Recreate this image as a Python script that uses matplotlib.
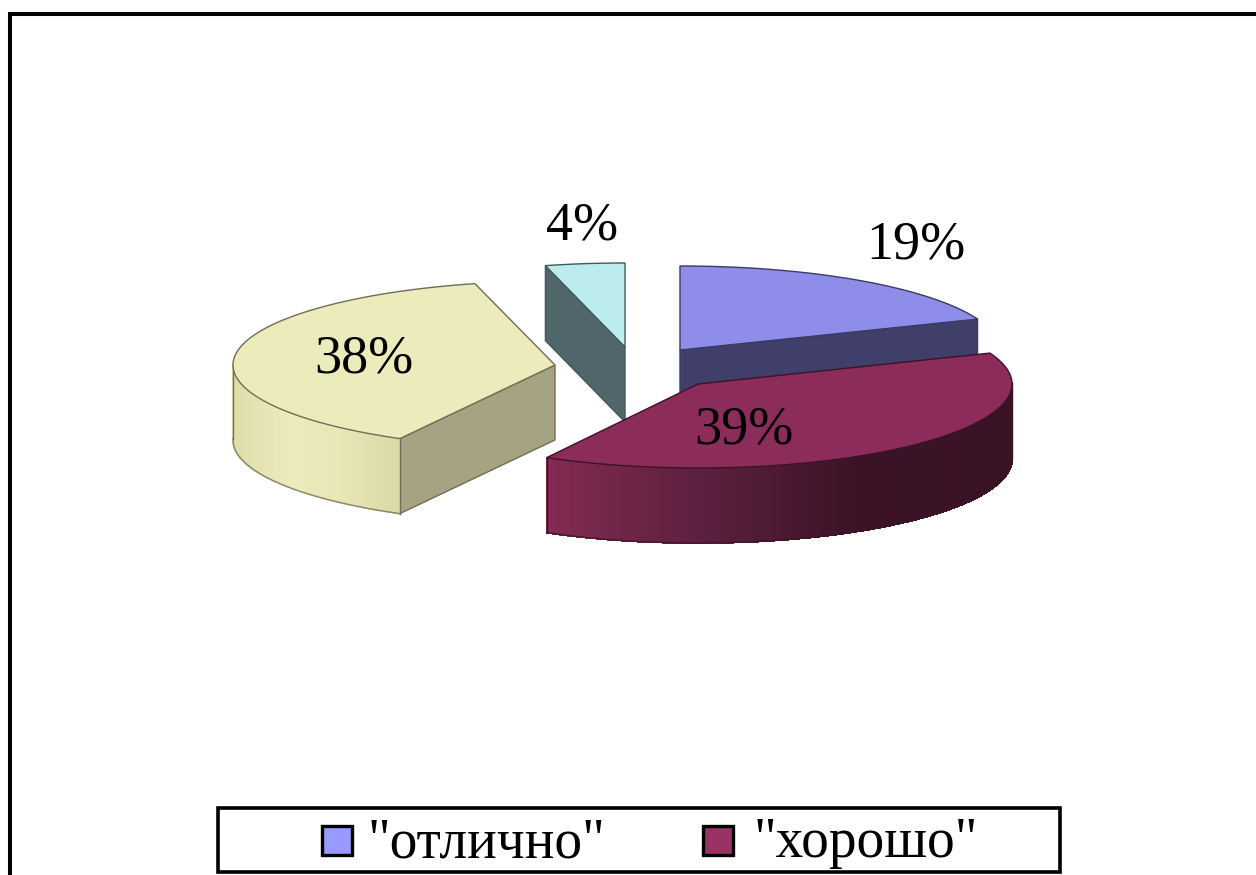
# -*- coding: utf-8 -*-

# Exploded 3D-look pie chart
import numpy as np
import matplotlib
matplotlib.use("Agg")
import matplotlib.pyplot as plt
from matplotlib.collections import PolyCollection
from matplotlib.colors import LinearSegmentedColormap
from matplotlib.patches import Rectangle

# Data
percents = [19, 39, 38, 4]
slice_labels = ["19%", "39%", "38%", "4%"]
legend_labels = ['"отлично"', '"хорошо"']

# Style
top_colors = ["#8e8eea", "#8c2c5a", "#ecebbb", "#bcedec"]
face_colors = ["#3f3f6a", "#5c2040", "#a5a382", "#50666a"]
edge_colors = ["#3a3a66", "#3c1326", "#6f6e58", "#3f5a5c"]
rim_stops = [["#3f3f6a", "#3f3f6a"],
             ["#842b52", "#5c2040", "#3c1326", "#3a1226"],
             ["#dfdcaa", "#ecebbb", "#e8e6b5", "#dbd8a8"],
             ["#50666a", "#50666a"]]
legend_colors = ["#9999ff", "#993366"]
apexes = [(680, 350), (698, 384), (555, 365), (625, 347)]
radii = [320, 314, 322, 320]
label_pos = [(916, 245), (744, 430), (364, 359), (582, 226)]
RY, DEPTH = 84, 75


def rim(apex, rx, t):
    return apex[0] + rx * np.sin(t), apex[1] - RY * np.cos(t)


fig = plt.figure(figsize=(12.56, 8.75), dpi=100)
ax = fig.add_axes([0, 0, 1, 1])
ax.set_xlim(0, 1256)
ax.set_ylim(875, 0)
ax.axis("off")

# Outer chart frame, runs off the picture on the right and at the bottom
ax.plot([10, 10, 1300], [900, 14, 14], color="black", lw=2.9, solid_joinstyle="miter")

edges = np.cumsum([0] + percents) / sum(percents) * 2 * np.pi
order = [2, 3, 0, 1]  # back to front

for i in order:
    t0, t1 = edges[i], edges[i + 1]
    apex = apexes[i]
    rx = radii[i]
    ts = np.linspace(t0, t1, 160)
    xs, ys = rim(apex, rx, ts)

    # Flat cut faces that look towards the viewer
    for t, visible in ((t0, np.sin(t0) < -1e-6), (t1, np.sin(t1) > 1e-6)):
        if visible:
            ex, ey = rim(apex, rx, t)
            ax.fill([apex[0], ex, ex, apex[0]],
                    [apex[1], ey, ey + DEPTH, apex[1] + DEPTH],
                    facecolor=face_colors[i], edgecolor=edge_colors[i], lw=1, zorder=2)

    # Curved outer wall, shaded along x
    front = np.cos(ts) < 0.02
    if front.sum() > 1:
        fx, fy = xs[front], ys[front]
        cmap = LinearSegmentedColormap.from_list("wall", rim_stops[i])
        span = (fx - fx.min()) / (fx.max() - fx.min())
        quads = [[(fx[k], fy[k]), (fx[k + 1], fy[k + 1]),
                  (fx[k + 1], fy[k + 1] + DEPTH), (fx[k], fy[k] + DEPTH)]
                 for k in range(len(fx) - 1)]
        cols = [cmap(s) for s in span[:-1]]
        ax.add_collection(PolyCollection(quads, facecolors=cols, edgecolors=cols,
                                         linewidths=0.8, antialiased=False, zorder=2))
        ax.plot(fx, fy + DEPTH, color=edge_colors[i], lw=1, alpha=0.8, zorder=2)
        ax.plot([fx[0], fx[0]], [fy[0], fy[0] + DEPTH], color=edge_colors[i], lw=1, zorder=2)
        ax.plot([fx[-1], fx[-1]], [fy[-1], fy[-1] + DEPTH], color=edge_colors[i], lw=1, zorder=2)

    # Top surface
    ax.fill(np.r_[apex[0], xs], np.r_[apex[1], ys], facecolor=top_colors[i],
            edgecolor=edge_colors[i], lw=1, joinstyle="miter", zorder=2)

# Percent labels
for text, (lx, ly) in zip(slice_labels, label_pos):
    ax.text(lx, ly, text, family="Liberation Serif", fontsize=39, color="black",
            ha="center", va="center", zorder=5)

# Legend box
ax.add_patch(Rectangle((218, 808), 842, 64, facecolor="white", edgecolor="black",
                       lw=2.6, joinstyle="miter", zorder=3))
legend_x = [(322, 368), (703, 754)]
for (box_x, text_x), name, col in zip(legend_x, legend_labels, legend_colors):
    ax.add_patch(Rectangle((box_x, 826), 30, 29, facecolor=col, edgecolor="black",
                           lw=2.4, zorder=4))
    ax.text(text_x, 843, name, family="Liberation Serif", fontsize=40, color="black",
            ha="left", va="center", zorder=4)

fig.savefig("out.png", dpi=100)
